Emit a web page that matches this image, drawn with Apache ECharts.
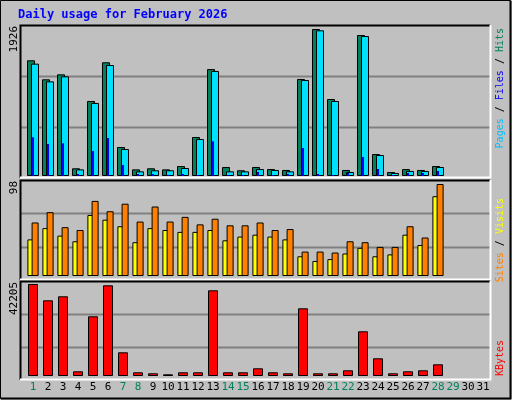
<!DOCTYPE html>
<html><head><meta charset="utf-8">
<script src="https://cdn.jsdelivr.net/npm/echarts@6/dist/echarts.min.js"></script>
<style>html,body{margin:0;padding:0;background:#c0c0c0}#c{width:512px;height:400px}</style>
</head><body><div id="c"></div>
<script>
const days = Array.from({length:31},(_,i)=>String(i+1));
const weekendDays = [1,7,8,14,15,21,22,28,29];
const hits  = [1516,1267,1332,101,983,1490,380,87,101,87,131,511,1401,118,75,118,91,79,1271,1926,1009,79,1847,288,52,91,79,131];
const files = [1472,1240,1306,87,957,1454,354,61,75,75,105,484,1376,61,61,91,79,61,1258,1909,983,52,1834,275,40,66,66,118];
const pages = [507,419,429,26,327,498,144,26,26,13,26,13,454,13,13,52,13,26,366,26,13,40,249,91,13,40,40,66];
const visits = [39,51,43,37,65,60,53,36,51,49,47,47,49,38,42,44,42,39,21,16,18,24,30,21,23,44,33,85];
const sites  = [57,68,52,49,80,69,77,58,74,58,63,55,61,54,54,57,49,50,26,26,25,37,36,31,31,53,41,98];
const kbytes = [42205,34727,36560,2156,27388,41600,10873,1700,1240,780,1700,1700,39315,1700,1700,3532,1700,1240,31058,1240,1240,2615,20506,8120,1240,2156,2615,5367];
const maxLabels = ['1926','98','42205'];

const mono = 'DejaVu Sans Mono';
const L = 25.5, R = 21.5;
const panels = [[25,178],[180,280],[281,380]];
const chart = echarts.init(document.getElementById('c'));
const g = [];
g.push({type:'rect',shape:{x:0.5,y:0.5,width:510,height:398},style:{fill:'#c0c0c0',stroke:'#000',lineWidth:1},z:-10});
g.push({type:'line',shape:{x1:1,y1:398.5,x2:511,y2:398.5},style:{stroke:'#000',lineWidth:2},z:-10});
g.push({type:'line',shape:{x1:510.5,y1:1,x2:510.5,y2:399},style:{stroke:'#000',lineWidth:2},z:-10});
panels.forEach(([t,b])=>{
  g.push({type:'rect',shape:{x:20,y:t,width:470,height:b-t},style:{fill:'#c0c0c0',stroke:null},z:-9});
  const h=(b-t)/3;
  [1,2].forEach(k=>g.push({type:'line',shape:{x1:20,y1:Math.round(t+h*k)+0.5,x2:490,y2:Math.round(t+h*k)+0.5},style:{stroke:'#808080',lineWidth:2},z:-8}));
  g.push({type:'polyline',shape:{points:[[20.5,b],[20.5,t+0.5],[490,t+0.5]]},style:{stroke:'#000',lineWidth:2,fill:null},z:-7});
  g.push({type:'polyline',shape:{points:[[20,b-0.5],[490.5,b-0.5],[490.5,t]]},style:{stroke:'#fff',lineWidth:2,fill:null},z:-7});
});
g.push({type:'text',x:18,y:9,style:{text:'Daily usage for February 2026',font:'bold 12px '+mono,fill:'#0000ff'}});
[[14,26],[14,181],[14,282]].forEach(([x,y],i)=>g.push({type:'text',x:x,y:y,rotation:Math.PI/2,style:{text:maxLabels[i],font:'11px '+mono,fill:'#000',align:'right',verticalAlign:'middle'}}));
function rlabel(y, parts){
  g.push({type:'text',x:500,y:y,rotation:Math.PI/2,style:{text:parts.map((p,i)=>'{s'+i+'|'+p[0]+'}').join(''),
    rich:Object.fromEntries(parts.map((p,i)=>['s'+i,{fill:p[1],font:'10px '+mono}])),align:'right',verticalAlign:'middle'}});
}
rlabel(28,[['Pages','#00c0ff'],[' / ','#000'],['Files','#0000ff'],[' / ','#000'],['Hits','#00805c']]);
rlabel(198,[['Sites','#ff8000'],[' / ','#000'],['Visits','#ffff00']]);
rlabel(340,[['KBytes','#ff0000']]);

const grids = [{top:29,bottom:400-176},{top:184,bottom:400-276},{top:284,bottom:400-376}].map(x=>({left:L,right:R,top:x.top,bottom:x.bottom}));
const xa = (gi, show)=>({type:'category',data:days,gridIndex:gi,axisLine:{show:false},axisTick:{show:false},
  axisLabel:{show:show,margin:6,interval:0,fontFamily:mono,fontSize:11,color:(v)=>weekendDays.includes(+v)?'#00805c':'#000'}});
const ya = (gi,max)=>({type:'value',gridIndex:gi,min:0,max:max,show:false,splitLine:{show:false}});
const bs = {borderColor:'#000',borderWidth:1};
chart.setOption({
  animation:false,
  graphic:g,
  grid:grids,
  xAxis:[xa(0,false),xa(0,false),xa(1,false),xa(2,true)],
  yAxis:[ya(0,1926),ya(0,1926),ya(1,98),ya(2,42205)],
  series:[
    {type:'bar',xAxisIndex:0,yAxisIndex:0,data:hits,barWidth:8,barGap:'-50%',itemStyle:Object.assign({color:'#00805c'},bs)},
    {type:'bar',xAxisIndex:0,yAxisIndex:0,data:files,barWidth:8,barGap:'-50%',itemStyle:Object.assign({color:'#00e0ff'},bs)},
    {type:'bar',xAxisIndex:1,yAxisIndex:1,data:pages,barWidth:2,itemStyle:{color:'#0000ff'},z:5},
    {type:'bar',xAxisIndex:2,yAxisIndex:2,data:visits,barWidth:7,barGap:'-40%',itemStyle:Object.assign({color:'#ffff00'},bs)},
    {type:'bar',xAxisIndex:2,yAxisIndex:2,data:sites,barWidth:7,barGap:'-40%',itemStyle:Object.assign({color:'#ff8000'},bs)},
    {type:'bar',xAxisIndex:3,yAxisIndex:3,data:kbytes,barWidth:10,itemStyle:Object.assign({color:'#ff0000'},bs)}
  ]
});
</script></body></html>
